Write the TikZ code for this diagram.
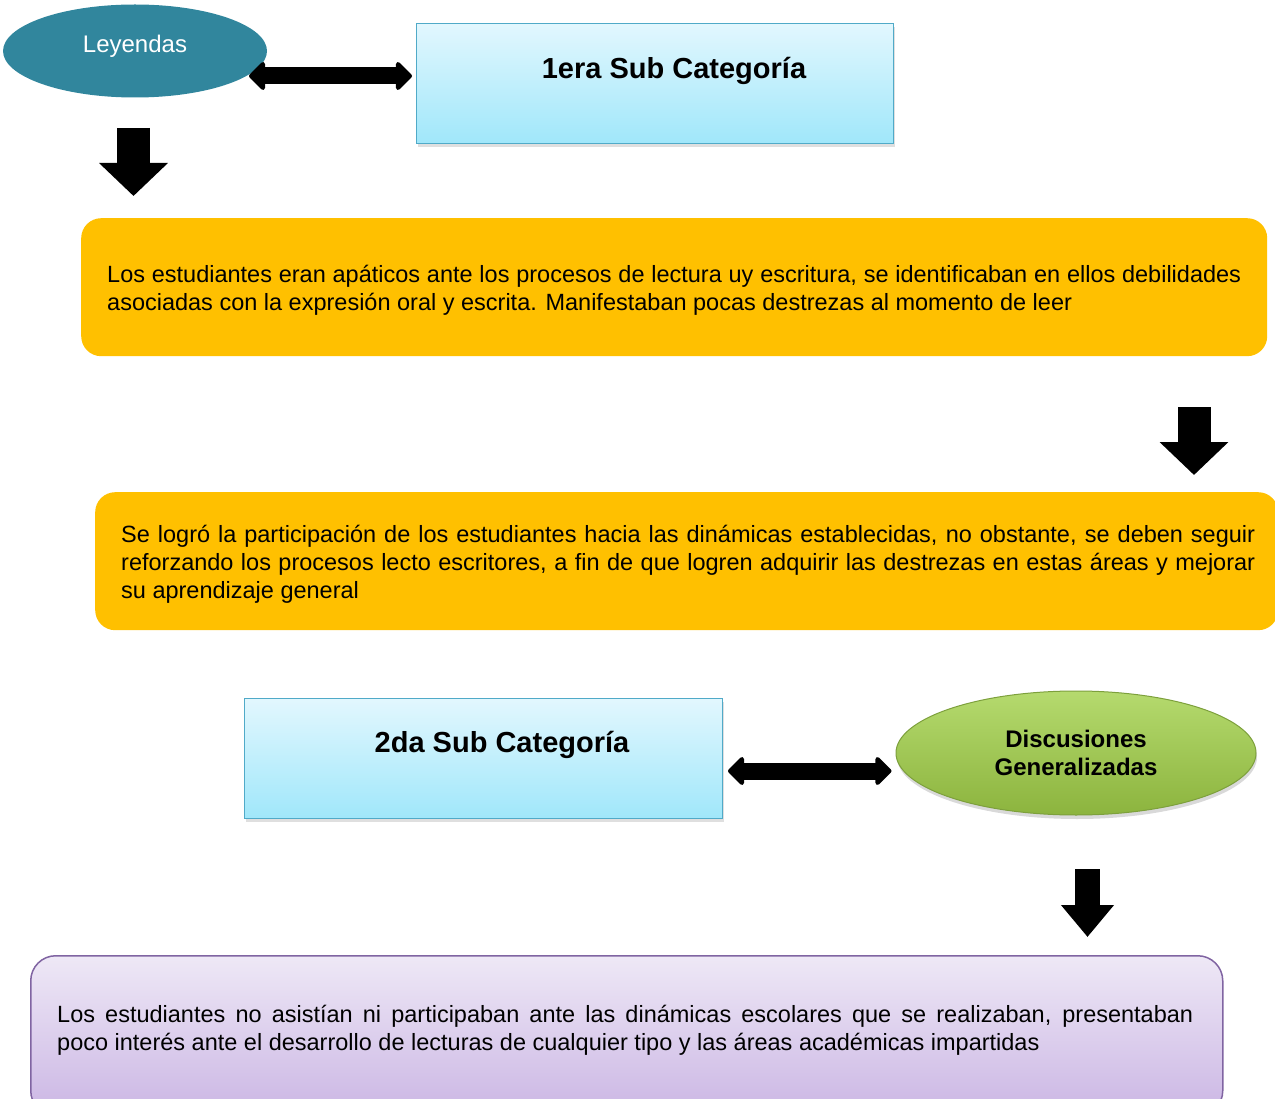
\documentclass[tikz,border=0pt]{standalone}
\usepackage{fontspec}
\setmainfont{Liberation Sans}
\usetikzlibrary{arrows.meta,shapes.geometric,shadows}
\definecolor{teal1}{RGB}{49,134,157}
\definecolor{cyantop}{RGB}{226,247,254}
\definecolor{cyanbot}{RGB}{160,231,250}
\definecolor{cyanborder}{RGB}{80,170,200}
\definecolor{orange1}{RGB}{255,192,0}
\definecolor{purptop}{RGB}{238,232,246}
\definecolor{purpbot}{RGB}{203,182,228}
\definecolor{purpborder}{RGB}{128,100,162}
\definecolor{greentop}{RGB}{181,218,110}
\definecolor{greenbot}{RGB}{140,180,62}
\definecolor{greenborder}{RGB}{125,160,60}
\tikzset{
  bodyfont/.style={font=\fontsize{23.5}{28}\selectfont},
  titlefont/.style={font=\bfseries\fontsize{29}{34}\selectfont},
  catbox/.style={draw=cyanborder, line width=1.2pt, top color=cyantop, bottom color=cyanbot,
    minimum width=477pt, minimum height=120pt, inner sep=0pt, anchor=north west,
    drop shadow={opacity=0.25, shadow xshift=1.5pt, shadow yshift=-3pt}},
  orangebox/.style={fill=orange1, rounded corners=20pt, minimum height=138pt, inner sep=0pt, anchor=north west},
  bodytext/.style={bodyfont, text width=1134pt, align=justify, inner sep=0pt, anchor=west},
  dblarrow/.style={line width=17pt, shorten <=1pt, shorten >=4pt, {Triangle[length=17pt,width=33pt,round]}-{Triangle[length=17pt,width=33pt,round]}},
  bigdown/.style={line width=33pt, -{Triangle[length=33pt,width=67pt]}},
  smalldown/.style={line width=25pt, -{Triangle[length=32pt,width=51pt]}},
}
\begin{document}
\begin{tikzpicture}[x=1pt,y=-1pt]
\useasboundingbox (0,0) rectangle (1275,1099);
\lefthyphenmin=62
% Leyendas
\node[ellipse, fill=teal1, minimum width=264pt, minimum height=93pt, inner sep=0pt] (ley) at (135,51) {};
\node[text=white, font=\fontsize{24}{28}\selectfont, inner sep=0pt] (leyt) at (135,46) {Leyendas};
% Box 1
\node[catbox] (box1) at (416,23) {};
\node[titlefont, inner sep=0pt] (t1) at (674,71) {1era Sub Categoría};
\coordinate (a1s) at (248,76);
\draw[dblarrow] (a1s) -- (box1.west |- a1s);
% down arrow 1
\coordinate (d1s) at (133.5,128);
\coordinate (d1e) at (133.5,196);
\draw[bigdown] (d1s) -- (d1e);
% Orange box 1
\node[orangebox, minimum width=1186pt] (o1) at (81,218) {};
\node[bodytext] (o1t) at (107,290) {Los estudiantes eran apáticos ante los procesos de lectura uy escritura, se identificaban en ellos debilidades\linebreak asociadas con la expresión oral y escrita. Manifestaban pocas destrezas al momento de leer};
% down arrow 2
\coordinate (d2s) at (1194,407);
\coordinate (d2e) at (1194,475);
\draw[bigdown] (d2s) -- (d2e);
% Orange box 2
\node[orangebox, minimum width=1183pt] (o2) at (95,492) {};
\node[bodytext] (o2t) at (121,564) {Se logró la participación de los estudiantes hacia las dinámicas establecidas, no obstante, se deben seguir\linebreak reforzando los procesos lecto escritores, a fin de que logren adquirir las destrezas en estas áreas y mejorar\linebreak su aprendizaje general};
% Box 2
\node[catbox, minimum width=478pt] (box2) at (244,698) {};
\node[titlefont, inner sep=0pt] (t2) at (502,745) {2da Sub Categoría};
% Green ellipse
\node[ellipse, draw=greenborder, line width=1pt, top color=greentop, bottom color=greenbot,
  minimum width=360pt, minimum height=124pt, inner sep=0pt,
  drop shadow={opacity=0.3, shadow xshift=1pt, shadow yshift=-4pt},
  font=\bfseries\fontsize{24}{28}\selectfont, align=center] (disc) at (1076,753) {Discusiones\\Generalizadas};
\coordinate (a2s) at (727,771);
\draw[dblarrow] (a2s) -- (disc.west |- a2s);
% down arrow 3
\coordinate (d3s) at (1087.5,869);
\coordinate (d3e) at (1087.5,937);
\draw[smalldown] (d3s) -- (d3e);
% Purple box
\node[draw=purpborder, line width=1.5pt, top color=purptop, bottom color=purpbot, rounded corners=25pt,
  minimum width=1192pt, minimum height=160pt, inner sep=0pt, anchor=north west] (pb) at (30,955) {};
\node[bodytext, text width=1136pt] (pbt) at (57,1030) {Los estudiantes no asistían ni participaban ante las dinámicas escolares que se realizaban, presentaban\linebreak poco interés ante el desarrollo de lecturas de cualquier tipo y las áreas académicas impartidas};
\end{tikzpicture}
\end{document}
